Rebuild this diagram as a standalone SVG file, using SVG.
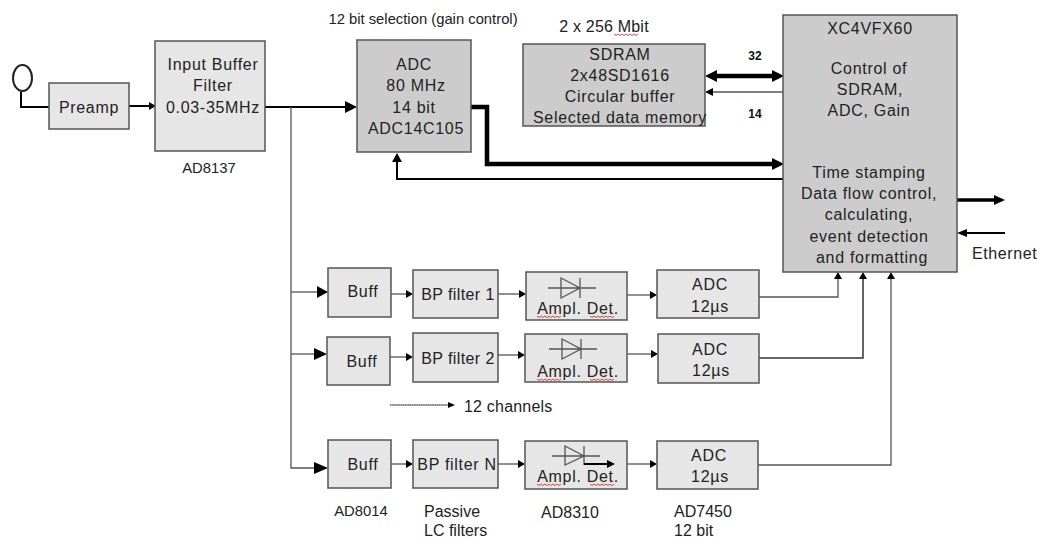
<svg xmlns="http://www.w3.org/2000/svg" width="1041" height="539" viewBox="0 0 1041 539">
<style>
text{font-family:"Liberation Sans",Arial,sans-serif;font-size:16px;fill:#222;text-anchor:middle}
rect~text{letter-spacing:.7px}
rect~text.n{letter-spacing:.4px}
.s{font-size:14.800px}
.l{text-anchor:start}
.b{font-size:12px;font-weight:bold;fill:#111}
.a{fill:#e6e6e6;stroke:#555;stroke-width:1.5}
.d{fill:#ccc;stroke:#555;stroke-width:1.5}
.c{fill:none;stroke:#333;stroke-width:1.5}
.g{fill:none;stroke:#555;stroke-width:1.3}
.k{fill:none;stroke:#000;stroke-width:2}
.t{fill:none;stroke:#000;stroke-width:4.5}
.h{fill:#000;stroke:none}
.z{fill:none;stroke:#d33;stroke-width:.9}
</style>
<defs>
<path id="sq" d="M0 0l2 1.5 2-1.500 2 1.500 2-1.500 2 1.500 2-1.500 2 1.500 2-1.500 2 1.500 2-1.500 2 1.500 2-1.500"/>
</defs>
<g id="connectors">
<path class="k" d="M21 92V107H49"/>
<path class="k" d="M129 106H150"/><path class="h" d="M156 106l-7-4v8z"/>
<path class="k" d="M265 107H346"/><path class="h" d="M357 107l-12-6v12z"/>
<path class="g" d="M291 107V468H318"/>
<path class="t" d="M471 107H487V164H772"/><path class="h" d="M784 164l-12-6v12z"/>
<path class="k" d="M783 179H397V160"/><path class="h" d="M397 153l-5 9h10z"/>
<path class="t" d="M716 76H772"/><path class="h" d="M705 76l12-6v12zM784 76l-12-6v12z"/>
<path class="g" d="M783 92H712"/><path class="h" d="M705 92l8-4v8z"/>
<path class="k" style="stroke-width:3.5" d="M957 200H994"/><path class="h" d="M1005 200l-11-5v10z"/>
<path class="k" d="M1005 233H966"/><path class="h" d="M957 233l10-4v8z"/>
<path class="g" d="M291 292H318"/><path class="h" d="M328 292l-11-6v12z"/>
<path class="g" d="M391 294H406"/><path class="h" d="M413 294l-7-4v8z"/>
<path class="g" d="M498 294H519"/><path class="h" d="M526 294l-7-4v8z"/>
<path class="g" d="M627 295H650"/><path class="h" d="M657 295l-7-4v8z"/>
<path class="g" d="M759 297H838V278"/><path class="h" d="M838 272l-4 7h8z"/>
<path class="g" d="M291 354H316"/><path class="h" d="M327 354l-13-6v12z"/>
<path class="g" d="M390 357H406"/><path class="h" d="M413 357l-7-4v8z"/>
<path class="g" d="M498 355H518"/><path class="h" d="M525 355l-7-4v8z"/>
<path class="g" d="M627 354H651"/><path class="h" d="M658 354l-7-4v8z"/>
<path class="c" d="M759 358H863V278"/><path class="h" d="M863 272l-4 7h8z"/>
<path class="h" d="M328 468l-14-6v12z"/>
<path class="g" d="M391 464H406"/><path class="h" d="M413 464l-7-4v8z"/>
<path class="g" d="M498 464H518"/><path class="h" d="M525 464l-7-4v8z"/>
<path class="g" d="M627 464H650"/><path class="h" d="M657 464l-7-4v8z"/>
<path class="g" d="M758 465H891V278"/><path class="h" d="M891 272l-4 7h8z"/>
<path fill="none" stroke="#111" stroke-dasharray="1.500 .3" d="M390 405H449"/><path class="h" d="M455 405l-7-3v6z"/>
</g>
<ellipse id="sensor" cx="22.500" cy="78" rx="9.500" ry="13" fill="#fff" stroke="#222" stroke-width="2"/>
<g id="preamp"><rect class="a" x="49" y="83" width="80" height="46"/><text x="89" y="113">Preamp</text></g>
<g id="input-buffer"><rect class="a" x="155" y="41" width="110" height="110"/><text x="213" y="70">Input Buffer</text><text x="213" y="91">Filter</text><text x="213" y="113">0.03-35MHz</text></g>
<text class="s" x="209" y="173">AD8137</text>
<text class="s" x="423" y="24">12 bit selection (gain control)</text>
<g id="adc-main"><rect class="d" x="357" y="40" width="114" height="112"/><text x="414" y="70">ADC</text><text x="416" y="91">80 MHz</text><text x="414" y="113">14 bit</text><text x="416" y="134">ADC14C105</text></g>
<text x="604" y="32" style="letter-spacing:.2px">2 x 256 Mbit</text>
<use href="#sq" class="z" x="614" y="34"/>
<g id="sdram"><rect class="d" x="523" y="44" width="182" height="82"/><text x="620" y="60">SDRAM</text><text x="620" y="81">2x48SD1616</text><text x="620" y="102">Circular buffer</text><text x="620" y="123">Selected data memory</text></g>
<text class="b" x="755" y="60">32</text><text class="b" x="755" y="118">14</text>
<g id="fpga"><rect class="d" x="783" y="15" width="174" height="257"/>
<text x="870" y="34">XC4VFX60</text><text x="869" y="74">Control of</text><text x="870" y="95">SDRAM,</text><text x="869" y="116">ADC, Gain</text>
<text x="869" y="178">Time stamping</text><text x="869" y="199">Data flow control,</text><text x="869" y="220">calculating,</text><text x="869" y="242">event detection</text><text x="872" y="263">and formatting</text></g>
<text class="l" x="972" y="259" style="letter-spacing:.6px">Ethernet</text>
<g id="buff-1"><rect class="a" x="328" y="268" width="63" height="49"/><text x="363" y="297">Buff</text></g>
<g id="bp-1"><rect class="a" x="413" y="270" width="85" height="48"/><text class="n" x="458" y="300">BP filter 1</text></g>
<g id="det-1"><rect class="a" x="526" y="272" width="101" height="48"/><path class="g" d="M548 288H596M561 278V298L580 288ZM580 278V298"/><text x="578" y="314">Ampl. Det.</text><use href="#sq" class="z" x="537" y="316"/><use href="#sq" class="z" x="590" y="316"/></g>
<g id="adc-1"><rect class="a" x="657" y="270" width="102" height="48"/><text x="710" y="290">ADC</text><text x="710" y="312">12µs</text></g>
<g id="buff-2"><rect class="a" x="327" y="337" width="63" height="48"/><text x="362" y="367">Buff</text></g>
<g id="bp-2"><rect class="a" x="413" y="333" width="85" height="49"/><text class="n" x="458" y="364">BP filter 2</text></g>
<g id="det-2"><rect class="a" x="525" y="334" width="102" height="48"/><path class="g" d="M549 349H597M562 339V359L581 349ZM581 339V359"/><text x="578" y="377">Ampl. Det.</text><use href="#sq" class="z" x="537" y="379"/><use href="#sq" class="z" x="590" y="379"/></g>
<g id="adc-2"><rect class="a" x="658" y="334" width="101" height="49"/><text x="710" y="355">ADC</text><text x="711" y="376">12µs</text></g>
<text class="l" x="464" y="412" style="letter-spacing:.2px">12 channels</text>
<g id="buff-n"><rect class="a" x="328" y="440" width="63" height="48"/><text x="363" y="470">Buff</text></g>
<g id="bp-n"><rect class="a" x="413" y="440" width="85" height="48"/><text x="457" y="470">BP filter N</text></g>
<g id="det-n"><rect class="a" x="525" y="441" width="102" height="48"/><path class="g" d="M552 456H600M565 446V465L584 456ZM584 446V465"/><path class="k" d="M584 464H608"/><path class="h" d="M615 464l-8-4v8z"/><text x="578" y="482">Ampl. Det.</text><use href="#sq" class="z" x="537" y="484"/><use href="#sq" class="z" x="590" y="484"/></g>
<g id="adc-n"><rect class="a" x="657" y="441" width="101" height="48"/><text x="709" y="461">ADC</text><text x="710" y="482">12µs</text></g>
<text class="s" x="361" y="516">AD8014</text>
<text class="l" x="424" y="517">Passive</text><text class="l" x="424" y="536">LC filters</text>
<text x="570" y="518">AD8310</text>
<text class="l" x="674" y="517">AD7450</text><text class="l" x="674" y="536">12 bit</text>
</svg>
